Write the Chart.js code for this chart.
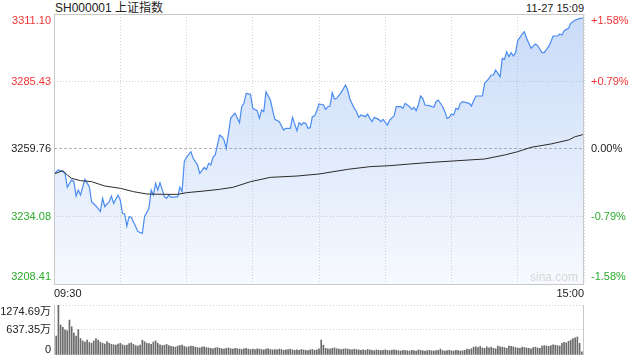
<!DOCTYPE html>
<html>
<head>
<meta charset="utf-8">
<script src="https://cdn.jsdelivr.net/npm/chart.js"></script>
<style>
body { margin: 0; background: #fff; }
#wrap { position: relative; width: 640px; height: 360px; overflow: hidden; font-family: "Liberation Sans", Arial, "Noto Sans CJK SC", sans-serif; }
#title { position: absolute; left: 55px; top: 0; font-size: 12px; line-height: 16px; color: #222; }
#stamp { position: absolute; right: 56px; top: 0; font-size: 11px; line-height: 16px; color: #222; }
#mark { position: absolute; right: 62px; top: 270px; font-size: 12px; line-height: 14px; color: #d6d6d6; z-index: 2; }
canvas { position: absolute; left: 0; }
#priceChart { top: 0; }
#volChart { top: 285px; }
</style>
</head>
<body>
<div id="wrap">
  <div id="title">SH000001 上证指数</div>
  <div id="stamp">11-27 15:09</div>
  <canvas id="priceChart" width="640" height="300"></canvas>
  <canvas id="volChart" width="640" height="75"></canvas>
  <div id="mark">sina.com</div>
</div>
<script>
// minutes counted from 09:30 (0) to 15:00 (240), lunch break left out
var prevClose = 3259.76;
var priceTicks = [3208.41, 3234.08, 3259.76, 3285.43, 3311.10];
var priceTickLabels = ['3208.41', '3234.08', '3259.76', '3285.43', '3311.10'];
var pctLabels = ['-1.58%', '-0.79%', '0.00%', '+0.79%', '+1.58%'];
var timeTicks = [0, 30, 60, 90, 120, 150, 180, 210, 240];
var timeLabels = ['09:30', '', '', '', '', '', '', '', '15:00'];
var volTicks = [0, 637.35, 1274.69];
var volTickLabels = ['0', '637.35万', '1274.69万'];

var priceMinutes = [
    0, 2, 4, 5, 6, 8, 9, 10, 11, 12,
    14, 16, 17, 19, 21, 22, 23, 25, 26, 27,
    29, 30, 31, 32, 33, 34, 35, 37, 38, 40,
    41, 43, 44, 45, 46, 47, 48, 50, 51, 52,
    53, 56, 57, 58, 59, 60, 62, 63, 65, 66,
    68, 69, 70, 71, 72, 73, 75, 76, 77, 78,
    80, 81, 82, 84, 85, 86, 87, 89, 90, 92,
    93, 94, 95, 96, 98, 99, 100, 102, 104, 105,
    107, 108, 110, 111, 112, 113, 114, 115, 116, 117,
    118, 119, 120, 122, 123, 124, 125, 126, 127, 128,
    130, 132, 133, 134, 136, 137, 138, 139, 141, 142,
    143, 144, 145, 147, 148, 149, 151, 152, 154, 155,
    157, 158, 159, 160, 161, 162, 163, 164, 165, 166,
    167, 168, 170, 172, 173, 174, 176, 177, 178, 179,
    180, 181, 182, 183, 184, 185, 188, 189, 191, 192,
    194, 195, 197, 198, 199, 200, 201, 202, 203, 204,
    205, 206, 207, 208, 209, 210, 211, 212, 213, 214,
    215, 216, 218, 219, 221, 222, 223, 224, 225, 226,
    228, 229, 230, 231, 233, 234, 235, 236, 237, 238,
    240
];
var priceValues = [
    3250.25, 3251.77, 3251.14, 3250.50, 3245.18, 3247.97, 3247.33, 3241.88, 3244.16, 3242.26,
    3248.22, 3245.43, 3239.73, 3238.08, 3235.92, 3240.99, 3237.82, 3239.73, 3241.88, 3239.09,
    3242.26, 3240.36, 3235.29, 3235.04, 3230.47, 3234.02, 3233.77, 3230.22, 3228.32, 3227.68,
    3234.02, 3237.19, 3244.16, 3242.26, 3246.70, 3244.16, 3246.95, 3241.63, 3240.99, 3242.26,
    3241.37, 3241.63, 3245.18, 3243.53, 3254.94, 3256.59, 3258.74, 3256.21, 3253.67, 3250.50,
    3252.78, 3252.02, 3254.30, 3253.67, 3256.59, 3257.47, 3265.08, 3264.45, 3263.18, 3260.01,
    3271.42, 3272.50, 3273.32, 3269.77, 3275.85, 3277.12, 3280.92, 3280.54, 3275.22, 3274.33,
    3271.41, 3274.58, 3273.95, 3281.56, 3278.39, 3274.58, 3271.03, 3270.15, 3266.98, 3267.61,
    3267.61, 3271.79, 3266.72, 3269.77, 3268.88, 3269.77, 3269.51, 3267.61, 3267.86, 3272.05,
    3272.30, 3274.33, 3276.87, 3276.48, 3274.84, 3275.85, 3276.10, 3281.18, 3278.77, 3279.02,
    3281.18, 3284.09, 3282.19, 3278.64, 3275.22, 3273.95, 3271.79, 3272.68, 3272.05, 3273.06,
    3271.41, 3270.15, 3271.79, 3271.03, 3270.15, 3271.03, 3268.88, 3270.78, 3272.30, 3275.85,
    3275.85, 3275.22, 3277.12, 3276.48, 3275.85, 3274.84, 3275.60, 3274.33, 3276.49, 3279.91,
    3279.02, 3276.49, 3276.23, 3275.60, 3277.76, 3278.39, 3275.85, 3273.95, 3271.42, 3271.80,
    3273.06, 3272.68, 3275.22, 3274.84, 3277.12, 3277.76, 3277.12, 3276.11, 3279.91, 3279.91,
    3279.91, 3284.73, 3286.63, 3287.90, 3287.90, 3289.80, 3288.53, 3287.26, 3294.24, 3293.86,
    3296.77, 3294.87, 3296.39, 3295.12, 3296.39, 3300.96, 3302.22, 3303.49, 3304.38, 3301.84,
    3299.94, 3298.04, 3299.69, 3299.10, 3296.39, 3296.39, 3297.66, 3298.67, 3300.58, 3302.73,
    3302.73, 3303.49, 3303.11, 3304.76, 3305.65, 3307.55, 3308.18, 3308.82, 3309.07, 3309.45,
    3309.58
];

var avgMinutes = [
    0, 4, 6, 8, 12, 17, 23, 30, 36, 42,
    50, 56, 60, 68, 75, 81, 89, 98, 110, 120,
    133, 143, 152, 161, 171, 183, 195, 204, 210, 216,
    225, 233, 236, 239, 240
];
var avgValues = [
    3250.25, 3251.52, 3249.87, 3248.60, 3247.71, 3247.33, 3245.68, 3244.80, 3243.53, 3242.64,
    3242.51, 3242.51, 3243.15, 3243.78, 3244.42, 3245.18, 3247.33, 3248.97, 3249.48, 3250.24,
    3252.02, 3253.03, 3253.41, 3254.04, 3254.68, 3255.32, 3255.95, 3257.47, 3258.74, 3260.39,
    3261.66, 3263.18, 3264.45, 3265.08, 3265.46
];

// volume per minute, 万
var volumes = [
    0, 484, 1275, 765, 705, 640, 620, 890, 720, 560,
    480, 650, 420, 360, 330, 380, 320, 300, 360, 420,
    380, 330, 300, 280, 340, 300, 270, 260, 250, 280,
    300, 260, 240, 250, 290, 310, 270, 240, 230, 250,
    380, 340, 300, 290, 270, 330, 360, 300, 260, 240,
    250, 270, 240, 220, 210, 200, 230, 240, 250, 220,
    200, 210, 230, 220, 200, 190, 180, 200, 210, 190,
    180, 170, 160, 180, 190, 170, 160, 150, 170, 180,
    160, 150, 170, 160, 150, 140, 160, 170, 150, 140,
    150, 140, 160, 150, 140, 130, 150, 160, 140, 130,
    140, 130, 150, 140, 120, 130, 140, 150, 130, 120,
    130, 120, 140, 130, 120, 110, 130, 140, 120, 130,
    160, 380, 250, 170, 160, 150, 170, 180, 160, 150,
    140, 150, 160, 150, 140, 130, 150, 140, 130, 120,
    130, 120, 140, 130, 120, 110, 130, 120, 110, 120,
    130, 120, 110, 120, 130, 120, 110, 100, 120, 110,
    110, 100, 120, 110, 100, 130, 120, 110, 100, 110,
    120, 110, 100, 110, 120, 150, 110, 100, 110, 120,
    110, 100, 120, 110, 100, 110, 120, 150, 140, 160,
    200, 210, 190, 220, 180, 170, 210, 180, 200, 170,
    160, 230, 210, 200, 190, 170, 230, 220, 210, 190,
    180, 170, 200, 190, 180, 170, 160, 190, 200, 180,
    170, 230, 240, 230, 220, 240, 260, 250, 240, 230,
    300, 320, 310, 350, 380, 420, 440, 460, 300, 80,
    655
];

var RED = '#f03434';
var GREEN = '#2bab2b';
var FONT = '11px "Liberation Sans", Arial, "Noto Sans CJK SC", sans-serif';

function tickColor(i) {
    if (i < 2) return GREEN;
    if (i > 2) return RED;
    return '#222';
}

// labels sit on their grid line, except top and bottom which are pulled inside the frame
function labelY(pixel, area, topShift, bottomShift) {
    return Math.max(area.top + topShift, Math.min(area.bottom - bottomShift, pixel));
}

var priceFrame = {
    id: 'priceFrame',
    afterDraw: function(chart) {
        var ctx = chart.ctx, a = chart.chartArea, y = chart.scales.y;
        ctx.save();
        ctx.strokeStyle = '#c8c8c8';
        ctx.lineWidth = 1;
        ctx.strokeRect(a.left + 0.5, a.top + 0.5, a.right - a.left - 1, a.bottom - a.top);
        ctx.font = FONT;
        ctx.textBaseline = 'middle';
        priceTicks.forEach(function(v, i) {
            var py = labelY(y.getPixelForValue(v), a, 6.5, 7);
            ctx.fillStyle = tickColor(i);
            ctx.textAlign = 'right';
            ctx.fillText(priceTickLabels[i], a.left - 3, py);
            ctx.textAlign = 'left';
            ctx.fillText(pctLabels[i], a.right + 7, py);
        });
        ctx.restore();
    }
};

var volFrame = {
    id: 'volFrame',
    afterDraw: function(chart) {
        var ctx = chart.ctx, a = chart.chartArea, y = chart.scales.y;
        ctx.save();
        ctx.strokeStyle = '#c8c8c8';
        ctx.lineWidth = 1;
        ctx.beginPath();
        ctx.moveTo(a.left + 0.5, a.top);
        ctx.lineTo(a.left + 0.5, a.bottom);
        ctx.moveTo(a.right - 0.5, a.top);
        ctx.lineTo(a.right - 0.5, a.bottom);
        ctx.stroke();
        ctx.font = FONT;
        ctx.textBaseline = 'middle';
        ctx.textAlign = 'right';
        ctx.fillStyle = '#222';
        volTicks.forEach(function(v, i) {
            var py = labelY(y.getPixelForValue(v), chart.chartArea, 7, 5.5);
            ctx.fillText(volTickLabels[i], a.left - 3, py);
        });
        ctx.restore();
    }
};

new Chart(document.getElementById('priceChart'), {
    type: 'line',
    data: {
        datasets: [{
            label: '均价',
            data: avgMinutes.map(function(m, i) { return { x: m, y: avgValues[i] }; }),
            borderColor: '#2a2a2a',
            borderWidth: 1,
            pointRadius: 0,
            fill: false
        }, {
            label: '价格',
            data: priceMinutes.map(function(m, i) { return { x: m, y: priceValues[i] }; }),
            borderColor: '#4b8cf0',
            borderWidth: 1.2,
            pointRadius: 0,
            fill: 'start',
            backgroundColor: function(c) {
                var a = c.chart.chartArea;
                if (!a) return 'rgba(90,145,235,0.2)';
                var g = c.chart.ctx.createLinearGradient(0, a.top, 0, a.bottom);
                g.addColorStop(0, 'rgba(90,145,235,0.33)');
                g.addColorStop(1, 'rgba(90,145,235,0.05)');
                return g;
            }
        }]
    },
    options: {
        responsive: false,
        devicePixelRatio: 1,
        animation: false,
        events: [],
        layout: { padding: { top: 14, right: 56, left: 0, bottom: 0 } },
        plugins: { legend: { display: false }, tooltip: { enabled: false } },
        scales: {
            x: {
                type: 'linear',
                min: 0,
                max: 240,
                afterBuildTicks: function(s) { s.ticks = timeTicks.map(function(v) { return { value: v }; }); },
                afterFit: function(s) { s.height = 16; },
                ticks: {
                    autoSkip: false,
                    maxRotation: 0,
                    align: 'inner',
                    padding: 3,
                    color: '#222',
                    font: { family: '"Liberation Sans", Arial, sans-serif', size: 11 },
                    callback: function(v, i) { return timeLabels[i]; }
                },
                grid: { color: '#d4d4d4', drawTicks: false },
                border: { display: false, dash: [1, 2] }
            },
            y: {
                min: priceTicks[0],
                max: priceTicks[priceTicks.length - 1],
                afterBuildTicks: function(s) { s.ticks = priceTicks.map(function(v) { return { value: v }; }); },
                afterFit: function(s) { s.width = 54; },
                ticks: { display: false },
                grid: {
                    drawTicks: false,
                    color: function(c) { return c.tick && c.tick.value === prevClose ? '#b4b4b4' : '#d4d4d4'; }
                },
                border: {
                    display: false,
                    dash: function(c) { return c.tick && c.tick.value === prevClose ? [3, 2] : [1, 2]; }
                }
            }
        }
    },
    plugins: [priceFrame]
});

new Chart(document.getElementById('volChart'), {
    type: 'bar',
    data: {
        datasets: [{
            label: '成交量',
            data: volumes.map(function(v, i) { return { x: i, y: v }; }),
            backgroundColor: '#6a6a6a',
            barThickness: 1
        }]
    },
    options: {
        responsive: false,
        devicePixelRatio: 1,
        animation: false,
        events: [],
        layout: { padding: { top: 20, right: 56, left: 0, bottom: 5 } },
        plugins: { legend: { display: false }, tooltip: { enabled: false } },
        scales: {
            x: { type: 'linear', min: 0, max: 240, offset: false, display: false },
            y: {
                min: 0,
                max: volTicks[volTicks.length - 1],
                afterBuildTicks: function(s) { s.ticks = volTicks.map(function(v) { return { value: v }; }); },
                afterFit: function(s) { s.width = 54; },
                ticks: { display: false },
                grid: {
                    drawTicks: false,
                    color: function(c) { return c.tick && c.tick.value === 0 ? 'rgba(0,0,0,0)' : '#d4d4d4'; }
                },
                border: { display: false, dash: [1, 2] }
            }
        }
    },
    plugins: [volFrame]
});
</script>
</body>
</html>
